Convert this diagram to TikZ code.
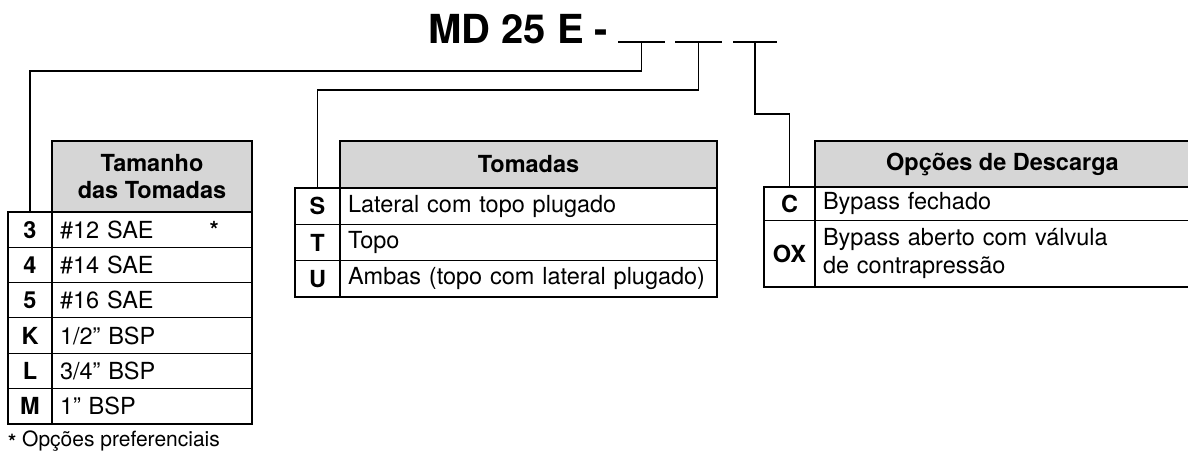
\documentclass[tikz,border=0pt]{standalone}
\usepackage{fontspec}
\setmainfont{TeX Gyre Heros}
\usepackage{xcolor}
\definecolor{headgray}{RGB}{214,214,214}

\begin{document}
\begin{tikzpicture}[
  x=1pt, y=-1pt,
  % Text Styles
  titletext/.style={font=\fontsize{40}{44}\selectfont\bfseries, inner sep=0pt, anchor=base west},
  notetext/.style={font=\fontsize{21}{24}\selectfont, inner sep=0pt, anchor=base west},
  % Cell Styles
  blank/.style={minimum width=47pt, minimum height=0pt, inner sep=0pt, outer sep=0pt},
  codecell/.style={draw, line width=1pt, anchor=north, inner sep=0pt, outer sep=0pt, font=\fontsize{23.5}{27.5}\selectfont\bfseries},
  desccell/.style={draw, line width=1pt, anchor=west, inner xsep=8pt, inner ysep=0pt, outer sep=0pt, align=left, font=\fontsize{23.5}{27.5}\selectfont},
  headbox/.style={draw, line width=2.4pt, fill=headgray, anchor=south west, align=center, inner sep=0pt, outer sep=0pt, font=\fontsize{23.5}{27}\selectfont\bfseries},
  code1/.style={codecell, minimum width=44pt, minimum height=35.33pt},
  desc1/.style={desccell, text width=184pt, minimum height=35.33pt},
  code2/.style={codecell, minimum width=45pt, minimum height=36.33pt},
  desc2/.style={desccell, text width=361pt, minimum height=36.33pt},
  code3/.style={codecell, minimum width=51pt},
  desc3/.style={desccell, text width=359pt},
  % Line Styles
  frame/.style={line width=2.4pt},
  colsep/.style={line width=1.4pt},
  conn/.style={line width=1.2pt}
]
\useasboundingbox (0,0) rectangle (1188,455);

% Model code
\node[titletext] (md) at (428,43) {MD 25 E -};
\node[blank] (u1) at (641.5,42) {};
\node[blank] (u2) at (698.5,42) {};
\node[blank, minimum width=44pt] (u3) at (755,42) {};
\draw[conn] (u1.west) -- (u1.east);
\draw[conn] (u2.west) -- (u2.east);
\draw[conn] (u3.west) -- (u3.east);

% Tamanho das Tomadas
\node[code1] (t1c1) at (30,212) {3};
\node[code1] (t1c2) at (t1c1.south) {4};
\node[code1] (t1c3) at (t1c2.south) {5};
\node[code1] (t1c4) at (t1c3.south) {K};
\node[code1] (t1c5) at (t1c4.south) {L};
\node[code1] (t1c6) at (t1c5.south) {M};
\node[desc1] (t1d1) at (t1c1.east) {\#12 SAE\hspace{56pt}{\bfseries *}};
\node[desc1] (t1d2) at (t1c2.east) {\#14 SAE};
\node[desc1] (t1d3) at (t1c3.east) {\#16 SAE};
\node[desc1] (t1d4) at (t1c4.east) {1/2” BSP};
\node[desc1] (t1d5) at (t1c5.east) {3/4” BSP};
\node[desc1] (t1d6) at (t1c6.east) {1” BSP};
\node[headbox, minimum width=200pt, minimum height=71pt] (t1h) at (t1c1.north east) {Tamanho\\das Tomadas};
\draw[colsep] (t1c1.north east) -- (t1c6.south east);
\draw[frame] (t1c1.north west) rectangle (t1d6.south east);
\node[notetext] (fn) at (8,446) {\raisebox{-3pt}{\bfseries *} Opções preferenciais};

% Tomadas
\node[code2] (t2c1) at (317.5,188) {S};
\node[code2] (t2c2) at (t2c1.south) {T};
\node[code2] (t2c3) at (t2c2.south) {U};
\node[desc2] (t2d1) at (t2c1.east) {Lateral com topo plugado};
\node[desc2] (t2d2) at (t2c2.east) {Topo};
\node[desc2] (t2d3) at (t2c3.east) {Ambas (topo com lateral plugado)};
\node[headbox, minimum width=377pt, minimum height=47pt] (t2h) at (t2c1.north east) {Tomadas};
\draw[colsep] (t2c1.north east) -- (t2c3.south east);
\draw[frame] (t2c1.north west) rectangle (t2d3.south east);

% Opcoes de Descarga
\node[code3, minimum height=33pt] (t3c1) at (789.5,187) {C};
\node[code3, minimum height=67pt] (t3c2) at (t3c1.south) {OX};
\node[desc3, minimum height=33pt] (t3d1) at (t3c1.east) {Bypass fechado};
\node[desc3, minimum height=67pt] (t3d2) at (t3c2.east) {Bypass aberto com válvula\\de contrapressão};
\node[headbox, minimum width=375pt, minimum height=46pt] (t3h) at (t3c1.north east) {Opções de Descarga};
\draw[colsep] (t3c1.north east) -- (t3c2.south east);
\draw[frame] (t3c1.north west) rectangle (t3d2.south east);

% Connectors
\draw[conn] (u1.south) -- ++(0,29) -| (t1c1.north);
\draw[conn] (u2.south) -- ++(0,48) -| (t2c1.north);
\draw[conn] (u3.south) -- ++(0,72) -| (t3c1.north);

\end{tikzpicture}
\end{document}
